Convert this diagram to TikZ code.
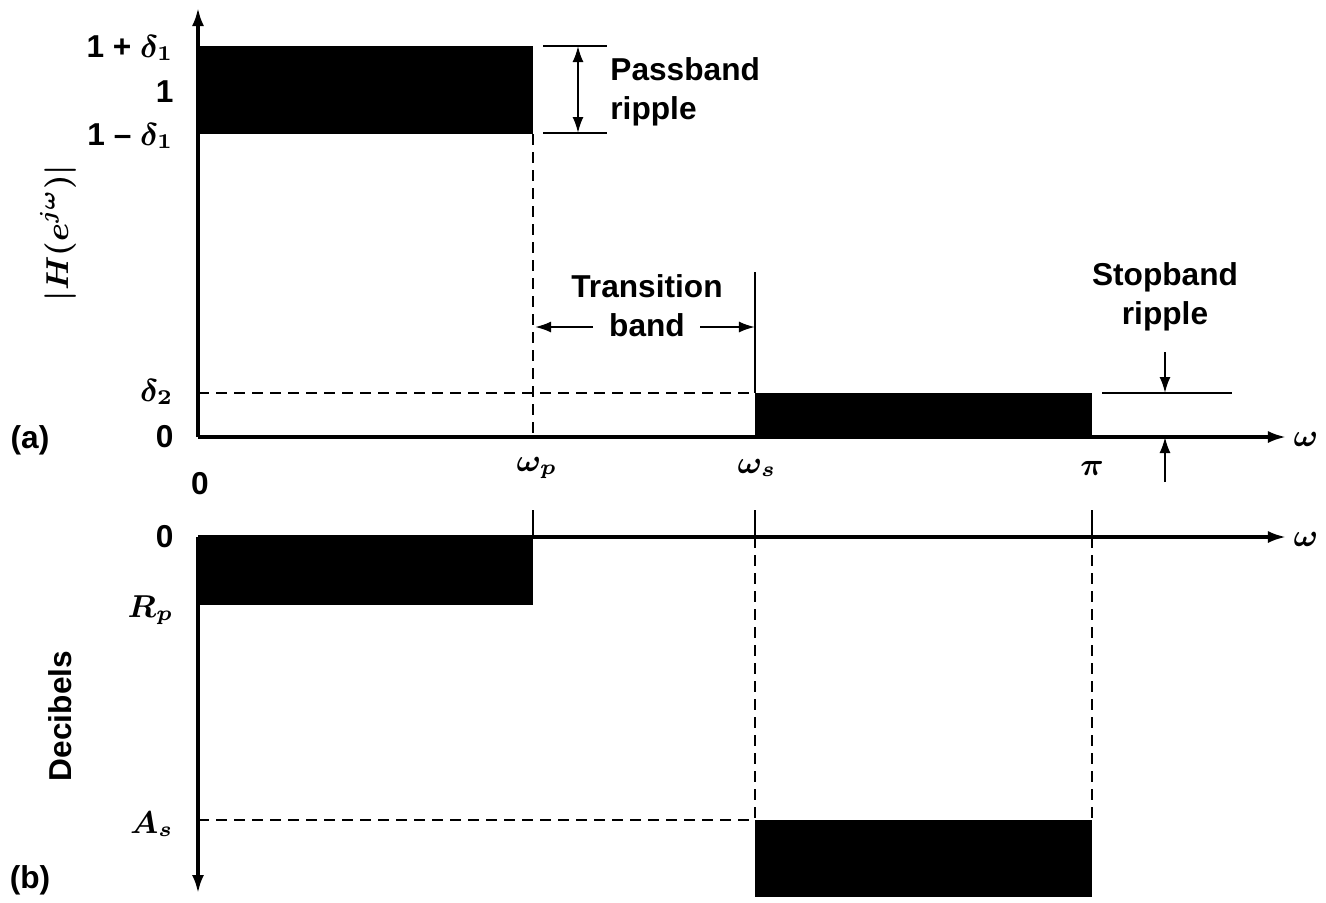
\documentclass[tikz,border=0pt]{standalone}
\usepackage{fontspec}
\setmainfont{Liberation Sans}
\usetikzlibrary{arrows.meta}
\begin{document}
\begin{tikzpicture}[x=0.01cm,y=-0.01cm,
    every node/.style={font=\fontsize{9}{11}\selectfont\bfseries\boldmath},
    axis/.style={line width=0.9pt,-{Latex[length=1.8mm,width=1.2mm]}},
    guide/.style={line width=0.8pt,dash pattern=on 1.1mm off 0.7mm},
    dim/.style={line width=0.6pt,-{Latex[length=1.6mm,width=1.1mm]}}]
  \useasboundingbox (0,0) rectangle (1326,902);
  % (a) magnitude response
  \coordinate (oa) at (198,437);
  \coordinate (ya) at (198,8);
  \coordinate (xa) at (1286,437);
  \fill (198,46) rectangle (533,134);
  \fill (755,393) rectangle (1092,437);
  \draw [axis] (oa) -- (ya);
  \draw [axis] (oa) -- (xa);
  \node (wa) at (1306,439) {$\omega$};
  \node [anchor=east] (d1p) at (186,48) {1 + $\delta_1$};
  \node [anchor=east] (one) at (186,92) {1};
  \node [anchor=east] (d1m) at (186,136) {1 -- $\delta_1$};
  \node [anchor=east] (d2) at (186,392) {$\delta_2$};
  \node [anchor=east] (za) at (186,437) {0};
  \node (pa) at (30,440) {(a)};
  \node [rotate=90] (mag) at (58,233) {$|H(e^{j\omega})|$};
  \node (zx) at (200,484) {0};
  \node (wp) at (537,468) {$\omega_p$};
  \node (ws) at (757,468) {$\omega_s$};
  \node (pi) at (1092,468) {$\pi$};
  % passband ripple
  \coordinate (pt) at (578,46);
  \coordinate (pb) at (578,133);
  \draw [line width=0.6pt] (543,46) -- (607,46);
  \draw [line width=0.6pt] (543,133) -- (607,133);
  \draw [dim] (578,90) -- (pt);
  \draw [dim] (578,90) -- (pb);
  \node [anchor=west,align=left] (pr) at (598,92) {Passband\\ripple};
  % transition band
  \draw [guide] (533,134) -- (533,437);
  \draw [guide] (198,393) -- (755,393);
  \draw [line width=0.6pt] (755,272) -- (755,393);
  \node [align=center] (tb) at (647,306) {Transition\\band};
  \coordinate (tl) at (535,327);
  \coordinate (tr) at (755,327);
  \draw [dim] (593,327) -- (tl);
  \draw [dim] (700,327) -- (tr);
  % stopband ripple
  \draw [line width=0.6pt] (1102,393) -- (1232,393);
  \node [align=center] (sr) at (1165,297) {Stopband\\ripple};
  \coordinate (st) at (1165,393);
  \coordinate (sb) at (1165,437);
  \draw [dim] (1165,352) -- (st);
  \draw [dim] (1165,482) -- (sb);
  % (b) decibels
  \coordinate (ob) at (198,537);
  \coordinate (yb) at (198,893);
  \coordinate (xb) at (1286,537);
  \fill (198,537) rectangle (533,605);
  \fill (755,820) rectangle (1092,897);
  \draw [axis] (ob) -- (yb);
  \draw [axis] (ob) -- (xb);
  \node (wb) at (1306,539) {$\omega$};
  \node [anchor=east] (zb) at (186,537) {0};
  \node [anchor=east] (rp) at (186,610) {$R_p$};
  \node [anchor=east] (as) at (186,824) {$A_s$};
  \node (pb) at (30,880) {(b)};
  \node [rotate=90] (db) at (60,716) {Decibels};
  \draw [line width=0.6pt] (533,510) -- (533,537);
  \draw [line width=0.6pt] (755,510) -- (755,537);
  \draw [line width=0.6pt] (1092,510) -- (1092,537);
  \draw [guide] (755,537) -- (755,820);
  \draw [guide] (1092,537) -- (1092,820);
  \draw [guide] (198,820) -- (755,820);
\end{tikzpicture}
\end{document}
